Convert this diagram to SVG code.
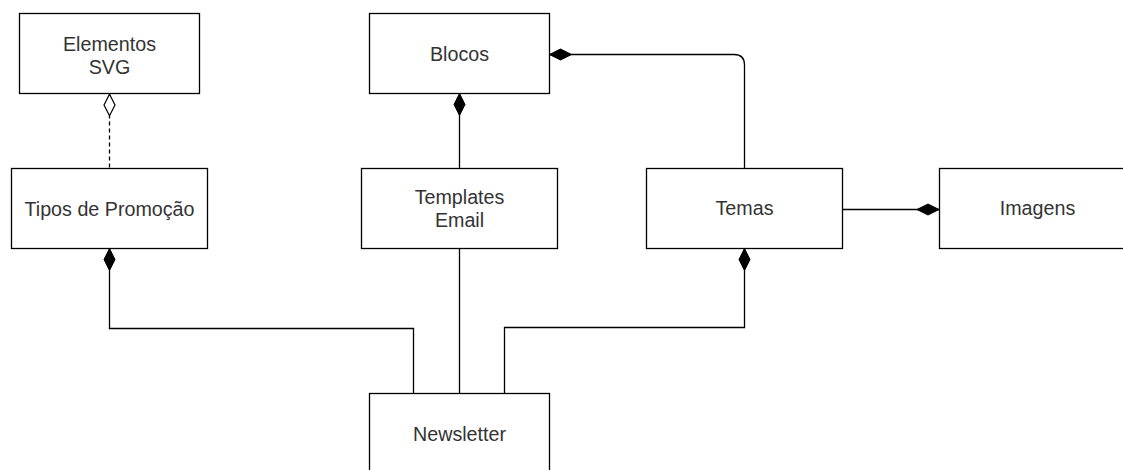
<svg xmlns="http://www.w3.org/2000/svg" width="1123" height="470" viewBox="0 0 1123 470">
<style>
.box{fill:#fff;stroke:#000;stroke-width:1.3}
.lbl{font-family:"Liberation Sans",Arial,sans-serif;font-size:19.7px;fill:#333;text-anchor:middle}
.edge{fill:none;stroke:#000;stroke-width:1.3}
.dash{stroke-dasharray:4 3}
</style>
<defs>
<marker id="dFill" markerUnits="userSpaceOnUse" markerWidth="26" markerHeight="14" viewBox="0 -7 26 14" refX="0" refY="0" orient="auto">
<path d="M0 0 L11 -5.5 L22 0 L11 5.5 Z" fill="#000" stroke="#000" stroke-width="1"/>
</marker>
<marker id="dOpen" markerUnits="userSpaceOnUse" markerWidth="26" markerHeight="14" viewBox="0 -7 26 14" refX="0" refY="0" orient="auto">
<path d="M0.7 0 L11.5 -5.5 L22.3 0 L11.5 5.5 Z" fill="#fff" stroke="#000" stroke-width="1.2"/>
</marker>
</defs>
<rect width="1123" height="470" fill="#fff"/>
<g id="connectors">
<path class="edge dash" d="M109.5 93.5 V168" marker-start="url(#dOpen)"/>
<path class="edge" d="M459.5 93.5 V168" marker-start="url(#dFill)"/>
<path class="edge" d="M549.5 54.5 H734 Q744.5 54.5 744.5 65 V168" marker-start="url(#dFill)"/>
<path class="edge" d="M939 209.5 H842" marker-start="url(#dFill)"/>
<path class="edge" d="M109.5 248.5 V328.5 H413.5 V393" marker-start="url(#dFill)"/>
<path class="edge" d="M459.5 248.5 V393"/>
<path class="edge" d="M744.5 248.5 V327.5 H504.5 V393" marker-start="url(#dFill)"/>
</g>
<g id="elementos-svg">
<rect class="box" x="19.5" y="13.5" width="180" height="80"/>
<text class="lbl" x="109.5" y="50.5">Elementos</text>
<text class="lbl" x="109.5" y="73.5">SVG</text>
</g>
<g id="blocos">
<rect class="box" x="369.5" y="13.5" width="180" height="80"/>
<text class="lbl" x="459.5" y="61">Blocos</text>
</g>
<g id="tipos-de-promocao">
<rect class="box" x="11.5" y="168.5" width="196" height="80"/>
<text class="lbl" x="109.5" y="215.5">Tipos de Promoção</text>
</g>
<g id="templates-email">
<rect class="box" x="361.5" y="168.5" width="196" height="80"/>
<text class="lbl" x="459.5" y="203.5">Templates</text>
<text class="lbl" x="459.5" y="226.5">Email</text>
</g>
<g id="temas">
<rect class="box" x="646.5" y="168.5" width="196" height="80"/>
<text class="lbl" x="744.5" y="215">Temas</text>
</g>
<g id="imagens">
<rect class="box" x="939.5" y="168.5" width="196" height="80"/>
<text class="lbl" x="1037.5" y="215">Imagens</text>
</g>
<g id="newsletter">
<rect class="box" x="369.5" y="393.5" width="180" height="80"/>
<text class="lbl" x="459.5" y="440.5">Newsletter</text>
</g>
</svg>
